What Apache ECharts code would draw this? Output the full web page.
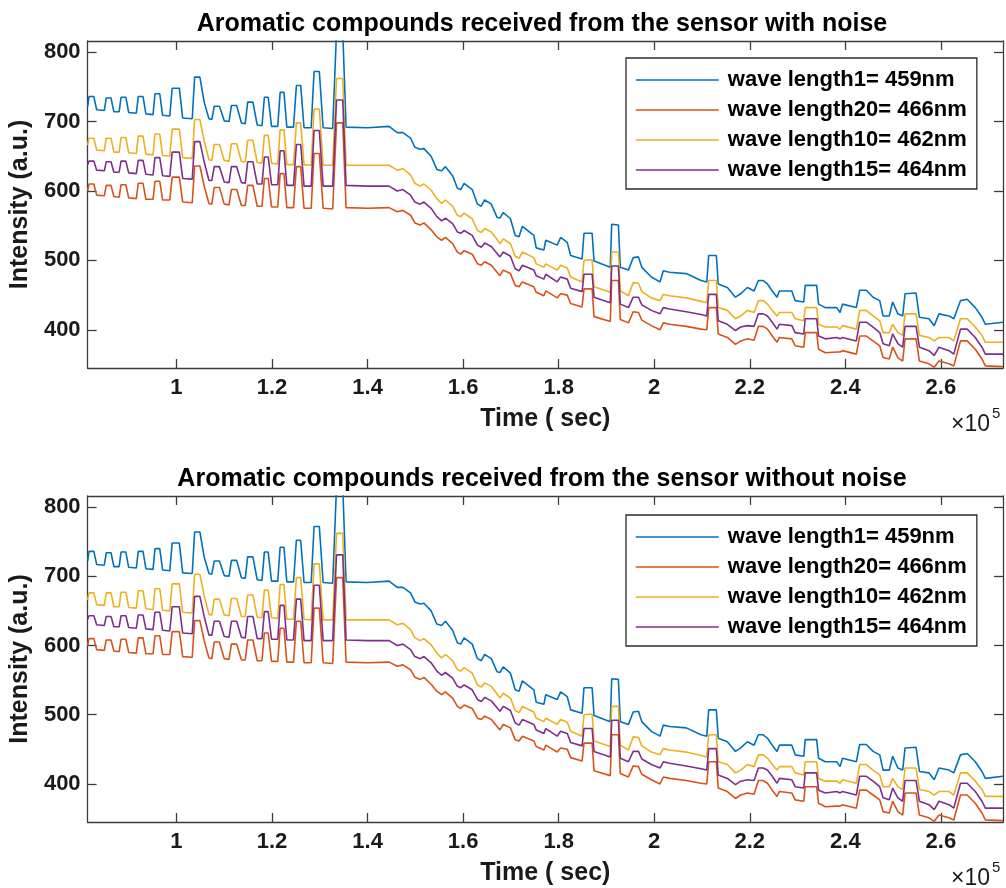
<!DOCTYPE html>
<html>
<head>
<meta charset="utf-8">
<script src="https://cdn.jsdelivr.net/npm/echarts@6/dist/echarts.min.js"></script>
<style>
  html, body { margin: 0; padding: 0; background: #fff; }
  #chart { width: 1006px; height: 888px; }
</style>
</head>
<body>
<div id="chart"></div>
<script>
// time axis, seconds
const timeSec = [
  81400, 81700, 82700, 83300, 84900, 85300, 86300, 86900, 88000, 88400,
  89400, 90000, 91600, 92000, 93000, 93600, 95100, 95500, 96500, 97100,
  98600, 99100, 100600, 101300, 103300, 103800, 104900, 105800, 106800, 107400,
  107900, 109000, 110000, 111000, 111500, 112600, 113600, 114400, 114900, 116000,
  116900, 117900, 118400, 119200, 119900, 121200, 121700, 122500, 123100, 124500,
  125100, 126000, 126700, 128200, 128800, 129900, 130700, 132700, 133500, 134800,
  135500, 140000, 144500,
  146200, 147400, 149000, 149900, 151000, 151800, 153300, 154500, 155500, 156300,
  157800, 158800, 159500, 160200, 161900, 163000, 163800, 164500, 165900, 167100,
  167700, 168400, 169900, 170900, 171700, 172400,
  174800, 175300, 176900, 177300, 179700, 180400, 181800, 182500, 184900, 185300,
  187000, 187400, 190800, 191100, 192500, 192900, 194600, 195600, 196700, 197400,
  199400, 201200, 201900, 203200, 206700, 209800, 211000, 211400, 213000, 213400,
  215300, 217000, 218100, 219500, 220900, 221800, 222800, 223700, 224700, 225700,
  226200, 228800, 229500, 231300, 231600, 234000, 234400, 235800, 238200, 238900,
  239400, 242300, 243000, 244400, 245800, 247200, 247900, 249200, 249900, 251000,
  252000, 252500, 254800, 255500, 257500, 258600, 259600, 261700, 262700, 264100,
  265500, 267200, 268600, 269300, 273000
];

// wave length1 = 459nm (blue)
const wl459 = [
  722, 736, 736, 717, 716, 734, 734, 714, 714, 735, 735, 713, 712, 736, 736, 711, 710, 740, 740, 709,
  708, 748, 748, 705, 704, 764, 764, 728, 704, 703, 722, 722, 701, 700, 723, 723, 698, 697, 728, 728,
  695, 694, 735, 735, 693, 693, 742, 742, 692, 692, 752, 752, 691, 691, 772, 772, 691, 690, 830, 830,
  692, 691, 693,
  684, 684, 676, 663, 660, 661, 650, 631, 629, 635, 622, 604, 602, 611, 602, 581, 578, 587, 581, 562,
  561, 569, 560, 536, 534, 549,
  536, 518, 515, 529, 522, 533, 526, 507, 502, 539, 539, 499, 490, 552, 551, 490, 486, 504, 505, 490,
  476, 469, 485, 483, 481, 471, 469, 507, 507, 466, 461, 447, 452, 461, 456, 471, 471, 466, 456, 447,
  456, 456, 442, 440, 464, 464, 437, 432, 432, 425, 437, 432, 457, 457, 447, 442, 420, 420, 440, 423,
  420, 452, 453, 418, 416, 406, 423, 420, 416, 442, 444, 432, 418, 408, 411
];

// wave length20 = 466nm (orange)
const wl466 = [
  600, 610, 610, 594, 593, 608, 608, 592, 591, 609, 609, 590, 589, 611, 611, 588, 588, 614, 614, 587,
  587, 620, 620, 584, 583, 636, 636, 607, 582, 581, 605, 605, 581, 580, 602, 602, 579, 579, 608, 608,
  578, 578, 618, 618, 577, 577, 625, 625, 576, 576, 635, 635, 575, 575, 654, 654, 575, 574, 698, 698,
  576, 575, 576,
  570, 572, 565, 554, 551, 554, 544, 534, 529, 533, 524, 512, 509, 514, 509, 495, 493, 498, 493, 483,
  478, 486, 481, 464, 462, 469,
  462, 454, 449, 456, 446, 452, 450, 438, 433, 459, 459, 419, 412, 471, 471, 415, 410, 426, 425, 414,
  406, 400, 410, 408, 405, 401, 400, 432, 432, 394, 389, 379, 384, 387, 385, 405, 405, 401, 391, 382,
  389, 387, 377, 375, 396, 396, 372, 367, 368, 368, 370, 365, 391, 391, 384, 377, 360, 358, 375, 360,
  355, 387, 387, 355, 351, 346, 355, 351, 348, 384, 384, 372, 358, 348, 347
];

// wave length10 = 462nm (yellow)
const wl462 = [
  666, 676, 676, 659, 658, 676, 676, 656, 656, 677, 677, 655, 654, 679, 679, 653, 652, 682, 682, 651,
  650, 689, 689, 648, 647, 703, 703, 672, 645, 644, 667, 667, 644, 643, 668, 668, 642, 642, 673, 673,
  641, 640, 680, 680, 640, 639, 688, 688, 638, 638, 698, 698, 638, 637, 718, 718, 637, 637, 762, 762,
  637, 637, 637,
  630, 632, 623, 611, 607, 610, 601, 589, 582, 587, 578, 565, 563, 568, 560, 543, 540, 546, 541, 530,
  524, 531, 524, 506, 503, 512,
  504, 495, 490, 495, 486, 493, 489, 476, 469, 500, 501, 462, 454, 512, 512, 456, 449, 468, 467, 455,
  446, 442, 451, 449, 446, 441, 439, 471, 471, 432, 428, 416, 420, 428, 425, 442, 442, 437, 428, 420,
  425, 425, 416, 413, 432, 432, 408, 404, 404, 401, 406, 401, 428, 428, 420, 413, 396, 396, 408, 396,
  392, 423, 423, 392, 389, 384, 389, 389, 384, 416, 416, 404, 392, 382, 382
];

// wave length15 = 464nm (purple)
const wl464 = [
  638, 643, 643, 630, 629, 642, 642, 627, 627, 643, 643, 626, 625, 644, 644, 624, 623, 648, 648, 622,
  621, 656, 656, 618, 617, 671, 671, 642, 615, 615, 635, 635, 613, 612, 635, 635, 612, 611, 642, 642,
  610, 610, 649, 649, 609, 609, 658, 658, 608, 608, 667, 667, 607, 607, 687, 687, 607, 607, 731, 731,
  608, 607, 607,
  600, 602, 594, 584, 581, 584, 575, 563, 557, 561, 553, 541, 539, 543, 536, 522, 519, 525, 520, 510,
  505, 512, 506, 488, 485, 493,
  486, 478, 473, 480, 469, 476, 473, 460, 455, 480, 480, 447, 439, 492, 492, 437, 432, 447, 447, 436,
  428, 423, 432, 430, 426, 422, 420, 451, 451, 413, 408, 399, 404, 406, 405, 423, 423, 420, 411, 401,
  408, 406, 396, 394, 416, 416, 391, 387, 389, 387, 389, 384, 411, 411, 404, 396, 380, 377, 394, 380,
  375, 405, 405, 375, 370, 363, 375, 370, 365, 401, 401, 389, 375, 365, 365
];

const seriesNames = ['wave length1= 459nm', 'wave length20= 466nm', 'wave length10= 462nm', 'wave length15= 464nm'];
const seriesValues = [wl459, wl466, wl462, wl464];
const seriesColors = ['#0072BD', '#D95319', '#EDB120', '#7E2F8E'];
const panelTitles = [
  'Aromatic compounds received from the sensor with noise',
  'Aromatic compounds received from the sensor without noise'
];
const xTicks = [100000, 120000, 140000, 160000, 180000, 200000, 220000, 240000, 260000];
const yTicks = [400, 500, 600, 700, 800];

seriesValues.forEach((arr, i) => {
  if (arr.length !== timeSec.length) throw new Error('length mismatch in series ' + i + ': ' + arr.length + ' vs ' + timeSec.length);
});

const FONT = '"Liberation Sans", Arial, Helvetica, sans-serif';
const AXIS_COLOR = '#3c3c3c';
const TEXT_COLOR = '#1a1a1a';
const panels = [
  { top: 41, height: 327, legendTop: 58 },
  { top: 496, height: 326, legendTop: 515 }
];

const chart = echarts.init(document.getElementById('chart'), null, { renderer: 'canvas' });

const axisLine = { show: true, onZero: false, lineStyle: { color: AXIS_COLOR, width: 1.3 } };
const tickStyle = { color: AXIS_COLOR, width: 1.3 };
const labelText = { fontSize: 22, fontWeight: 'bold', color: TEXT_COLOR, fontFamily: FONT };
const nameText = { fontSize: 25, fontWeight: 'bold', color: TEXT_COLOR, fontFamily: FONT };

const grid = [], xAxis = [], yAxis = [], series = [], legend = [], graphic = [];

panels.forEach((p, gi) => {
  grid.push({ left: 81, top: p.top, width: 922, height: p.height, containLabel: false });

  xAxis.push({
    type: 'value', gridIndex: gi, position: 'bottom', min: 81400, max: 273000,
    axisLine, splitLine: { show: false },
    axisTick: { show: true, inside: true, length: 9, customValues: xTicks, lineStyle: tickStyle },
    axisLabel: {
      show: true, customValues: xTicks, margin: 9, ...labelText,
      formatter: v => String(+(v / 1e5).toFixed(1))
    },
    name: 'Time ( sec)', nameLocation: 'middle', nameGap: 39, nameTextStyle: nameText
  });
  xAxis.push({
    type: 'value', gridIndex: gi, position: 'top', min: 81400, max: 273000,
    axisLine, splitLine: { show: false },
    axisTick: { show: true, inside: true, length: 9, customValues: xTicks, lineStyle: tickStyle },
    axisLabel: { show: false }
  });
  yAxis.push({
    type: 'value', gridIndex: gi, position: 'left', min: 345, max: 816,
    axisLine, splitLine: { show: false },
    axisTick: { show: true, inside: true, length: 9, customValues: yTicks, lineStyle: tickStyle },
    axisLabel: { show: true, customValues: yTicks, margin: 7, ...labelText },
    name: 'Intensity (a.u.)', nameLocation: 'middle', nameGap: 45, nameRotate: 90, nameTextStyle: nameText
  });
  yAxis.push({
    type: 'value', gridIndex: gi, position: 'right', min: 345, max: 816,
    axisLine, splitLine: { show: false },
    axisTick: { show: true, inside: true, length: 9, customValues: yTicks, lineStyle: tickStyle },
    axisLabel: { show: false }
  });

  seriesNames.forEach((name, si) => {
    series.push({
      name, type: 'line', xAxisIndex: gi * 2, yAxisIndex: gi * 2,
      data: timeSec.map((t, k) => [t, seriesValues[si][k]]),
      symbol: 'none', showSymbol: false, clip: true,
      lineStyle: { color: seriesColors[si], width: 1.6 },
      itemStyle: { color: seriesColors[si] },
      emphasis: { disabled: true }
    });
  });

  legend.push({
    data: seriesNames, orient: 'vertical', left: 626, top: p.legendTop,
    itemWidth: 83, itemHeight: 14, itemGap: 8,
    padding: [11, 10, 8, 9],
    borderColor: '#2b2b2b', borderWidth: 1.3, borderRadius: 0, backgroundColor: '#fff',
    textStyle: { fontSize: 22, fontWeight: 'bold', color: '#000', fontFamily: FONT, padding: [0, 0, 0, 4] },
    itemStyle: { opacity: 0 },
    lineStyle: { width: 1.6 },
    selectedMode: false
  });

  graphic.push({
    type: 'text', x: 542, y: p.top - 17,
    style: { text: panelTitles[gi], fill: '#000', font: 'bold 25px ' + FONT, align: 'center', verticalAlign: 'middle' }
  });
  const axisBottom = p.top + p.height;
  graphic.push({
    type: 'text', x: 990, y: axisBottom + 57,
    style: { text: '×10', fill: TEXT_COLOR, font: '23px ' + FONT, align: 'right', verticalAlign: 'middle' }
  });
  graphic.push({
    type: 'text', x: 992, y: axisBottom + 46,
    style: { text: '5', fill: TEXT_COLOR, font: '15px ' + FONT, align: 'left', verticalAlign: 'middle' }
  });
});

chart.setOption({
  animation: false,
  backgroundColor: '#fff',
  grid, xAxis, yAxis, series, legend, graphic
});
</script>
</body>
</html>
